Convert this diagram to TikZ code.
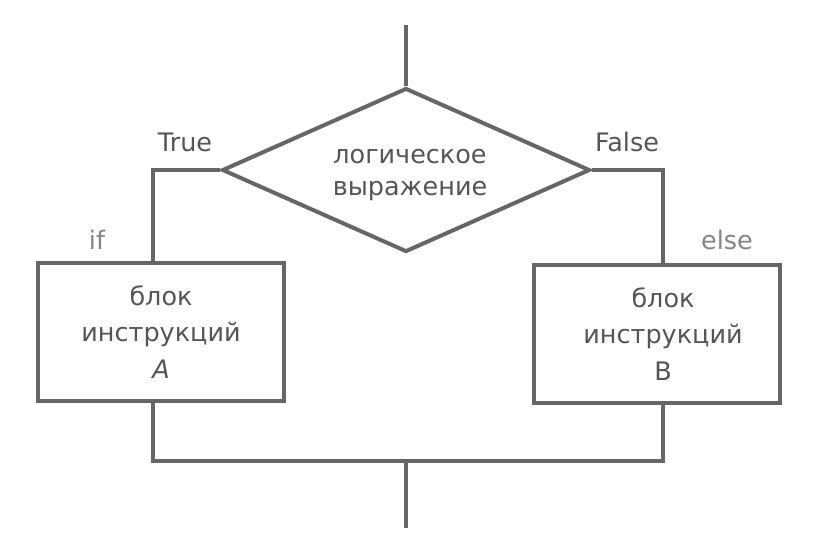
\documentclass[tikz,border=0pt]{standalone}
\usepackage{fontspec}
\setmainfont{DejaVu Sans}
\usetikzlibrary{shapes.geometric}

\definecolor{linegray}{HTML}{666666}
\definecolor{textgray}{HTML}{555555}
\definecolor{labelgray}{HTML}{858585}

\begin{document}
\begin{tikzpicture}[x=0.02cm,y=-0.02cm]
\tikzset{
  flow/.style={draw=linegray,line width=0.08cm},
  decision/.style={diamond,draw=linegray,line width=0.08cm,inner sep=0pt,
    minimum width=7.36cm,minimum height=3.28cm},
  condtext/.style={align=center,text=textgray,inner sep=0pt,
    font=\fontsize{14.5}{18.7}\selectfont},
  block/.style={rectangle,draw=linegray,line width=0.08cm,minimum width=4.94cm,
    minimum height=2.76cm,align=center,text=textgray,font=\fontsize{14.5}{21}\selectfont},
  branch/.style={text=textgray,font=\fontsize{14.5}{16}\selectfont},
  keyword/.style={text=labelgray,font=\fontsize{14.5}{16}\selectfont}
}
\useasboundingbox (0,0) rectangle (813,555);
\node[decision] (cond) at (406,170) {};
\node[condtext] (condText) at (410,175) {логическое\\выражение};
\node[block] (blockA) at (161,332) {блок\\инструкций\\\textit{A}};
\node[block] (blockB) at (657,334) {\hspace*{0.24cm}блок\\\hspace*{0.24cm}инструкций\\\hspace*{0.24cm}B};
\node[branch] (lblTrue) at (185,142) {True};
\node[branch] (lblFalse) at (627,142) {False};
\node[keyword] (lblIf) at (97,240) {if};
\node[keyword] (lblElse) at (727,240) {else};
\coordinate (start) at (406,25);
\coordinate (join) at (406,461);
\coordinate (finish) at (406,528);
\coordinate (lx) at (153,0);
\coordinate (rx) at (663,0);
\draw[flow] (start) -- (cond.north);
\draw[flow] (cond.west) -| (lx |- blockA.north);
\draw[flow] (cond.east) -| (rx |- blockB.north);
\draw[flow] (lx |- blockA.south) -- (lx |- join) -- (rx |- join) -- (rx |- blockB.south);
\draw[flow] (join) -- (finish);
\end{tikzpicture}
\end{document}
